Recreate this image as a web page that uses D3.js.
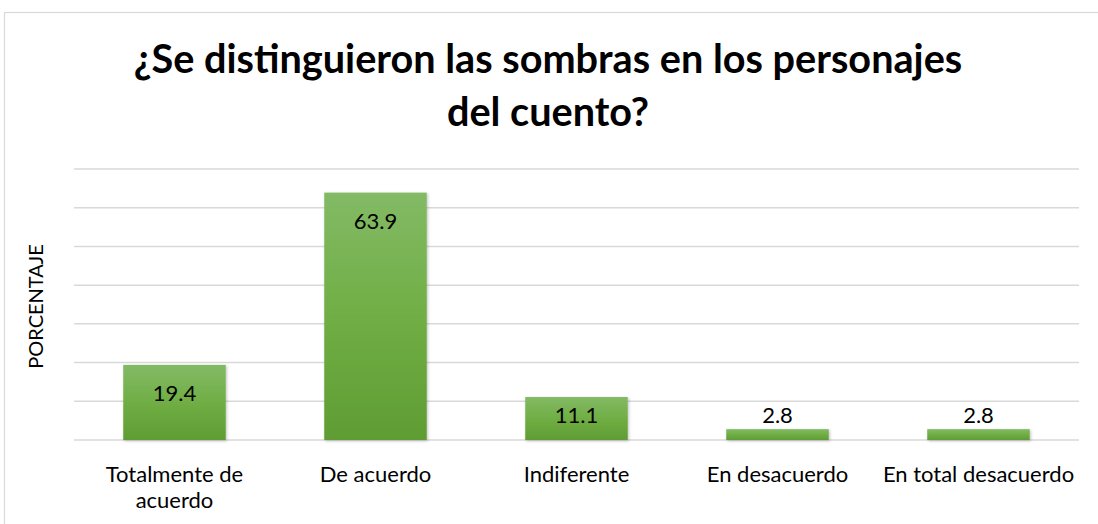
<!DOCTYPE html>
<html>
<head>
<meta charset="utf-8">
<script src="https://cdn.jsdelivr.net/npm/d3@7/dist/d3.min.js"></script>
<style>
  html, body { margin: 0; padding: 0; background: #fff; }
  svg { display: block; }
</style>
</head>
<body>
<svg id="chart" width="1098" height="524"></svg>
<script>
const categories = [["Totalmente de", "acuerdo"], ["De acuerdo"], ["Indiferente"], ["En desacuerdo"], ["En total desacuerdo"]];
const values = [19.4, 63.9, 11.1, 2.8, 2.8];
const yTicks = [0, 10, 20, 30, 40, 50, 60, 70];
const titleLines = ["¿Se distinguieron las sombras en los personajes", "del cuento?"];
const yLabel = "PORCENTAJE";

const width = 1098;
const height = 524;
const margin = { top: 169, right: 19, bottom: 84, left: 74 };
const chartWidth = width - margin.left - margin.right;
const chartHeight = height - margin.top - margin.bottom;
const font = "Lato, 'Open Sans', sans-serif";

const svgNode = document.getElementById("chart");
const root = d3.select(svgNode);

// frame
root.append("rect")
  .attr("x", 4.5).attr("y", 12.5)
  .attr("width", 1200).attr("height", 600)
  .attr("fill", "#fff")
  .attr("stroke", "#d9d9d9")
  .attr("stroke-width", 1.2);

const defs = root.append("defs");
const grad = defs.append("linearGradient")
  .attr("id", "barGrad")
  .attr("x1", 0).attr("y1", 0).attr("x2", 0).attr("y2", 1);
grad.append("stop").attr("offset", "0%").attr("stop-color", "#83ba65");
grad.append("stop").attr("offset", "50%").attr("stop-color", "#70ae45");
grad.append("stop").attr("offset", "100%").attr("stop-color", "#5f9d33");

const shadow = defs.append("filter").attr("id", "shadow")
  .attr("x", "-10%").attr("y", "-10%").attr("width", "130%").attr("height", "130%");
shadow.append("feDropShadow")
  .attr("dx", 1).attr("dy", 1).attr("stdDeviation", 1.5)
  .attr("flood-color", "#000").attr("flood-opacity", 0.25);

// title
const title = root.append("text")
  .attr("font-family", font)
  .attr("font-weight", "bold")
  .attr("font-size", 36)
  .attr("fill", "#000")
  .attr("text-anchor", "middle");
title.selectAll("tspan")
  .data(titleLines)
  .join("tspan")
  .attr("x", 548)
  .attr("y", (d, i) => 73 + i * 53)
  .text((d) => d);

// fit title width to the reference (~829px for first line)
const firstLine = title.select("tspan").node();
const w = firstLine.getComputedTextLength();
title.attr("font-size", 36 * 829 / w);

const x = d3.scaleBand()
  .domain(d3.range(values.length))
  .range([0, chartWidth])
  .paddingInner(0.49)
  .paddingOuter(0.245);

const y = d3.scaleLinear()
  .domain([0, 70])
  .range([chartHeight, 0]);

const g = root.append("g")
  .attr("transform", `translate(${margin.left},${margin.top})`);

// gridlines
g.append("g")
  .selectAll("line")
  .data(yTicks)
  .join("line")
  .attr("x1", 0)
  .attr("x2", chartWidth)
  .attr("y1", (d) => y(d))
  .attr("y2", (d) => y(d))
  .attr("stroke", "#d9d9d9")
  .attr("stroke-width", 1.5);

// y label
root.append("text")
  .attr("transform", `translate(43,${margin.top + chartHeight / 2 + 2}) rotate(-90)`)
  .attr("font-family", font)
  .attr("font-size", 20)
  .attr("fill", "#000")
  .attr("text-anchor", "middle")
  .text(yLabel);

// bars
g.append("g")
  .selectAll("rect")
  .data(values)
  .join("rect")
  .attr("x", (d, i) => x(i))
  .attr("y", (d) => y(d))
  .attr("width", x.bandwidth())
  .attr("height", (d) => chartHeight - y(d))
  .attr("fill", "url(#barGrad)")
  .attr("filter", "url(#shadow)");

// value labels: inside end when the bar is tall enough, above otherwise
g.append("g")
  .selectAll("text")
  .data(values)
  .join("text")
  .attr("x", (d, i) => x(i) + x.bandwidth() / 2)
  .attr("y", (d) => {
    const h = chartHeight - y(d);
    if (h > 30) return Math.min(y(d) + 36, y(d) + h / 2 + 4);
    return y(d) - 6;
  })
  .attr("font-family", font)
  .attr("font-size", 22)
  .attr("fill", "#000")
  .attr("text-anchor", "middle")
  .text((d) => d.toFixed(1));

// category labels
const cat = g.append("g")
  .selectAll("text")
  .data(categories)
  .join("text")
  .attr("font-family", font)
  .attr("font-size", 22)
  .attr("fill", "#000")
  .attr("text-anchor", "middle");
cat.selectAll("tspan")
  .data((d, i) => d.map((t) => ({ t, i })))
  .join("tspan")
  .attr("x", (d) => x(d.i) + x.bandwidth() / 2)
  .attr("y", (d, j) => chartHeight + 42 + j * 26)
  .text((d) => d.t);
</script>
</body>
</html>
